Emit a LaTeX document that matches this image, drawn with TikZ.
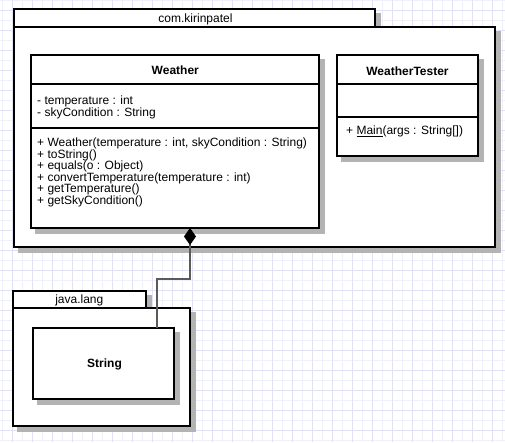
\documentclass[tikz,border=0pt]{standalone}
\usepackage{fontspec}
\setmainfont{Liberation Sans}
\usetikzlibrary{arrows.meta}
\definecolor{gridA}{HTML}{E1E1F7}
\definecolor{gridB}{HTML}{F0F0FA}
\definecolor{shadowc}{HTML}{B3B3B3}
\definecolor{connc}{HTML}{5A5A5A}
\begin{document}
\begin{tikzpicture}[x=1pt,y=-1pt,
  box/.style={draw=black, line width=2pt, fill=white, inner sep=0pt, outer sep=0pt, anchor=north west},
  shad/.style={fill=shadowc, draw=shadowc, line width=2pt},
  sepline/.style={draw=black, line width=2pt},
  txt/.style={font=\fontsize{12}{14}\selectfont, inner sep=0pt, anchor=base west},
  ttl/.style={font=\bfseries\fontsize{12}{14}\selectfont, inner sep=0pt, anchor=base},
  pkgtxt/.style={font=\fontsize{12}{14}\selectfont, inner sep=0pt, anchor=base},
  conn/.style={draw=connc, line width=1.2pt}]
\useasboundingbox (0,0) rectangle (505,442);
\fill[white] (0,0) rectangle (505,442);
% grid
\foreach \x in {2,22,...,502} \draw[gridB, line width=1pt] (\x,0) -- (\x,442);
\foreach \y in {0,20,...,440} \draw[gridB, line width=1pt] (0,\y) -- (505,\y);
\foreach \x in {12,32,...,492} \draw[gridA, line width=1pt] (\x,0) -- (\x,442);
\foreach \y in {10,30,...,430} \draw[gridA, line width=1pt] (0,\y) -- (505,\y);

% ---- package com.kirinpatel ----
\fill[shad] (18.5,13.5) rectangle (379.5,31.5);
\fill[shad] (18.5,31.5) rectangle (499.5,251.5);
\node[box, minimum width=361pt, minimum height=18pt] (comtab) at (14,9) {};
\node[box, minimum width=481pt, minimum height=220pt] (compkg) at (14,27) {};
\node[pkgtxt] (comlabel) at (195.5,22.8) {com.kirinpatel};

% ---- Weather ----
\fill[shad] (35.5,59.5) rectangle (323.5,232.5);
\node[box, minimum width=288pt, minimum height=173pt] (weather) at (31,55) {};
\draw[sepline] (weather.west |- 0,84) -- (weather.east |- 0,84);
\draw[sepline] (weather.west |- 0,128) -- (weather.east |- 0,128);
\node[ttl] (weathertitle) at (175.3,74.5) {Weather};
\node[txt] (a1) at (37,104.8) {- temperature : int};
\node[txt] (a2) at (37,116.4) {- skyCondition : String};
\node[txt] (m1) at (37,146.8) {+ Weather(temperature : int, skyCondition : String)};
\node[txt] (m2) at (37,158.25) {+ toString()};
\node[txt] (m3) at (37,169.7) {+ equals(o : Object)};
\node[txt] (m4) at (37,181.15) {+ convertTemperature(temperature : int)};
\node[txt] (m5) at (37,192.6) {+ getTemperature()};
\node[txt] (m6) at (37,204.05) {+ getSkyCondition()};

% ---- WeatherTester ----
\fill[shad] (341.5,59.5) rectangle (482.5,160.5);
\node[box, minimum width=141pt, minimum height=101pt] (tester) at (337,55) {};
\draw[sepline] (tester.west |- 0,84) -- (tester.east |- 0,84);
\draw[sepline] (tester.west |- 0,117) -- (tester.east |- 0,117);
\node[ttl] (testertitle) at (407.5,75) {WeatherTester};
\node[txt] (tm1) at (346,134.5) {+ \underline{Main}(args : String[])};

% ---- package java.lang ----
\fill[shad] (17.5,295.5) rectangle (150.5,312.5);
\fill[shad] (17.5,312.5) rectangle (194.5,430.5);
\node[box, minimum width=133pt, minimum height=17pt] (javatab) at (13,291) {};
\node[box, minimum width=177pt, minimum height=118pt] (javapkg) at (13,308) {};
\node[pkgtxt] (javalabel) at (79.3,303.8) {java.lang};

% ---- String ----
\fill[shad] (37.5,332.5) rectangle (178.5,403.5);
\node[box, minimum width=141pt, minimum height=71pt] (string) at (33,328) {};
\node[ttl] (stringtitle) at (104.5,367) {String};

% ---- composition connector ----
\draw[conn, -{Diamond[length=17pt,width=12pt,black,fill=black]}]
  ([xshift=-17pt]string.north east) |- ([xshift=15pt,yshift=-51pt]weather.south)
  -- ([xshift=15pt]weather.south);
\end{tikzpicture}
\end{document}
